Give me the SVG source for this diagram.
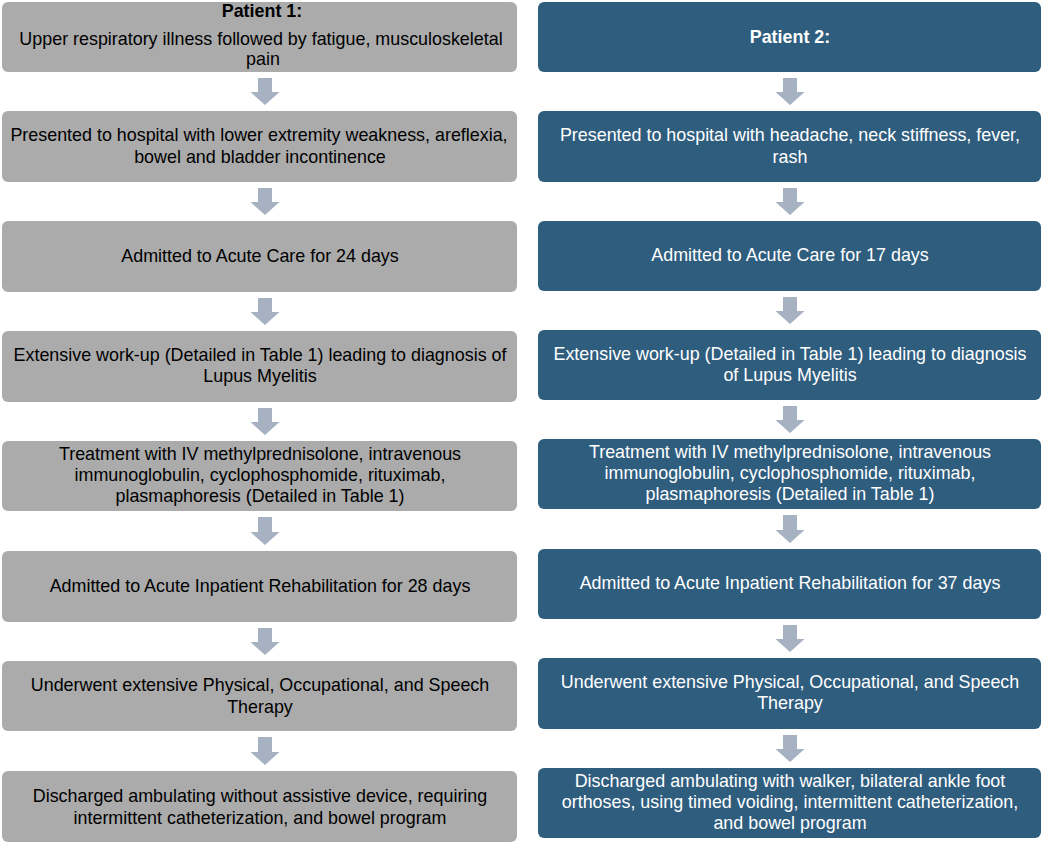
<svg xmlns="http://www.w3.org/2000/svg" width="1052" height="844" viewBox="0 0 1052 844">
<style>
.bg{fill:#ffffff}
.l rect{fill:#ABABAB}
.r rect{fill:#2F5D7E}
.l text{fill:#000000}
.r text{fill:#ffffff}
text{font-family:"Liberation Sans",Arial,sans-serif;font-size:17.9px;text-anchor:middle}
.b{font-weight:bold}
.arr{fill:#A6B2C1}
</style>
<rect class="bg" x="0" y="0" width="1052" height="844"/>
<g id="connectors">
<path class="arr" d="M258,78 H272 V92 H279.5 L265,105 L250.5,92 H258 Z"/>
<path class="arr" d="M258,188 H272 V202 H279.5 L265,215 L250.5,202 H258 Z"/>
<path class="arr" d="M258,298 H272 V312 H279.5 L265,325 L250.5,312 H258 Z"/>
<path class="arr" d="M258,408 H272 V422 H279.5 L265,435 L250.5,422 H258 Z"/>
<path class="arr" d="M258,517 H272 V532 H279.5 L265,545 L250.5,532 H258 Z"/>
<path class="arr" d="M258,628 H272 V642 H279.5 L265,655 L250.5,642 H258 Z"/>
<path class="arr" d="M258,737 H272 V752 H279.5 L265,765 L250.5,752 H258 Z"/>
<path class="arr" d="M783,78 H797 V92 H804.5 L790,105 L775.5,92 H783 Z"/>
<path class="arr" d="M783,188 H797 V202 H804.5 L790,215 L775.5,202 H783 Z"/>
<path class="arr" d="M783,297 H797 V311 H804.5 L790,324 L775.5,311 H783 Z"/>
<path class="arr" d="M783,406 H797 V420 H804.5 L790,433 L775.5,420 H783 Z"/>
<path class="arr" d="M783,515 H797 V530 H804.5 L790,543 L775.5,530 H783 Z"/>
<path class="arr" d="M783,625 H797 V639 H804.5 L790,652 L775.5,639 H783 Z"/>
<path class="arr" d="M783,735 H797 V749 H804.5 L790,762 L775.5,749 H783 Z"/>
</g>
<g id="p1-1" class="l"><rect x="2" y="2" width="515" height="70" rx="6"/><text x="262" y="17" class="b">Patient 1:</text><text x="261" y="45">Upper respiratory illness followed by fatigue, musculoskeletal</text><text x="263" y="65">pain</text></g>
<g id="p1-2" class="l"><rect x="2" y="111" width="515" height="71" rx="6"/><text x="259" y="141">Presented to hospital with lower extremity weakness, areflexia,</text><text x="260" y="163">bowel and bladder incontinence</text></g>
<g id="p1-3" class="l"><rect x="2" y="221" width="515" height="71" rx="6"/><text x="260" y="262">Admitted to Acute Care for 24 days</text></g>
<g id="p1-4" class="l"><rect x="2" y="331" width="515" height="71" rx="6"/><text x="260" y="361">Extensive work-up (Detailed in Table 1) leading to diagnosis of</text><text x="260" y="382">Lupus Myelitis</text></g>
<g id="p1-5" class="l"><rect x="2" y="441" width="515" height="70" rx="6"/><text x="260" y="460">Treatment with IV methylprednisolone, intravenous</text><text x="260" y="481">immunoglobulin, cyclophosphomide, rituximab,</text><text x="260" y="502">plasmaphoresis (Detailed in Table 1)</text></g>
<g id="p1-6" class="l"><rect x="2" y="551" width="515" height="71" rx="6"/><text x="260" y="592">Admitted to Acute Inpatient Rehabilitation for 28 days</text></g>
<g id="p1-7" class="l"><rect x="2" y="661" width="515" height="70" rx="6"/><text x="260" y="691">Underwent extensive Physical, Occupational, and Speech</text><text x="260" y="713">Therapy</text></g>
<g id="p1-8" class="l"><rect x="2" y="771" width="515" height="71" rx="6"/><text x="260" y="802">Discharged ambulating without assistive device, requiring</text><text x="260" y="824">intermittent catheterization, and bowel program</text></g>
<g id="p2-1" class="r"><rect x="538" y="2" width="503" height="70" rx="6"/><text x="790" y="43" class="b">Patient 2:</text></g>
<g id="p2-2" class="r"><rect x="538" y="111" width="503" height="71" rx="6"/><text x="790" y="141">Presented to hospital with headache, neck stiffness, fever,</text><text x="790" y="163">rash</text></g>
<g id="p2-3" class="r"><rect x="538" y="221" width="503" height="70" rx="6"/><text x="790" y="261">Admitted to Acute Care for 17 days</text></g>
<g id="p2-4" class="r"><rect x="538" y="330" width="503" height="70" rx="6"/><text x="790" y="360">Extensive work-up (Detailed in Table 1) leading to diagnosis</text><text x="790" y="381">of Lupus Myelitis</text></g>
<g id="p2-5" class="r"><rect x="538" y="439" width="503" height="70" rx="6"/><text x="790" y="458">Treatment with IV methylprednisolone, intravenous</text><text x="790" y="479">immunoglobulin, cyclophosphomide, rituximab,</text><text x="790" y="500">plasmaphoresis (Detailed in Table 1)</text></g>
<g id="p2-6" class="r"><rect x="538" y="549" width="503" height="70" rx="6"/><text x="790" y="589">Admitted to Acute Inpatient Rehabilitation for 37 days</text></g>
<g id="p2-7" class="r"><rect x="538" y="658" width="503" height="71" rx="6"/><text x="790" y="688">Underwent extensive Physical, Occupational, and Speech</text><text x="790" y="709">Therapy</text></g>
<g id="p2-8" class="r"><rect x="538" y="768" width="503" height="70" rx="6"/><text x="790" y="787">Discharged ambulating with walker, bilateral ankle foot</text><text x="790" y="808">orthoses, using timed voiding, intermittent catheterization,</text><text x="790" y="829">and bowel program</text></g>
</svg>
